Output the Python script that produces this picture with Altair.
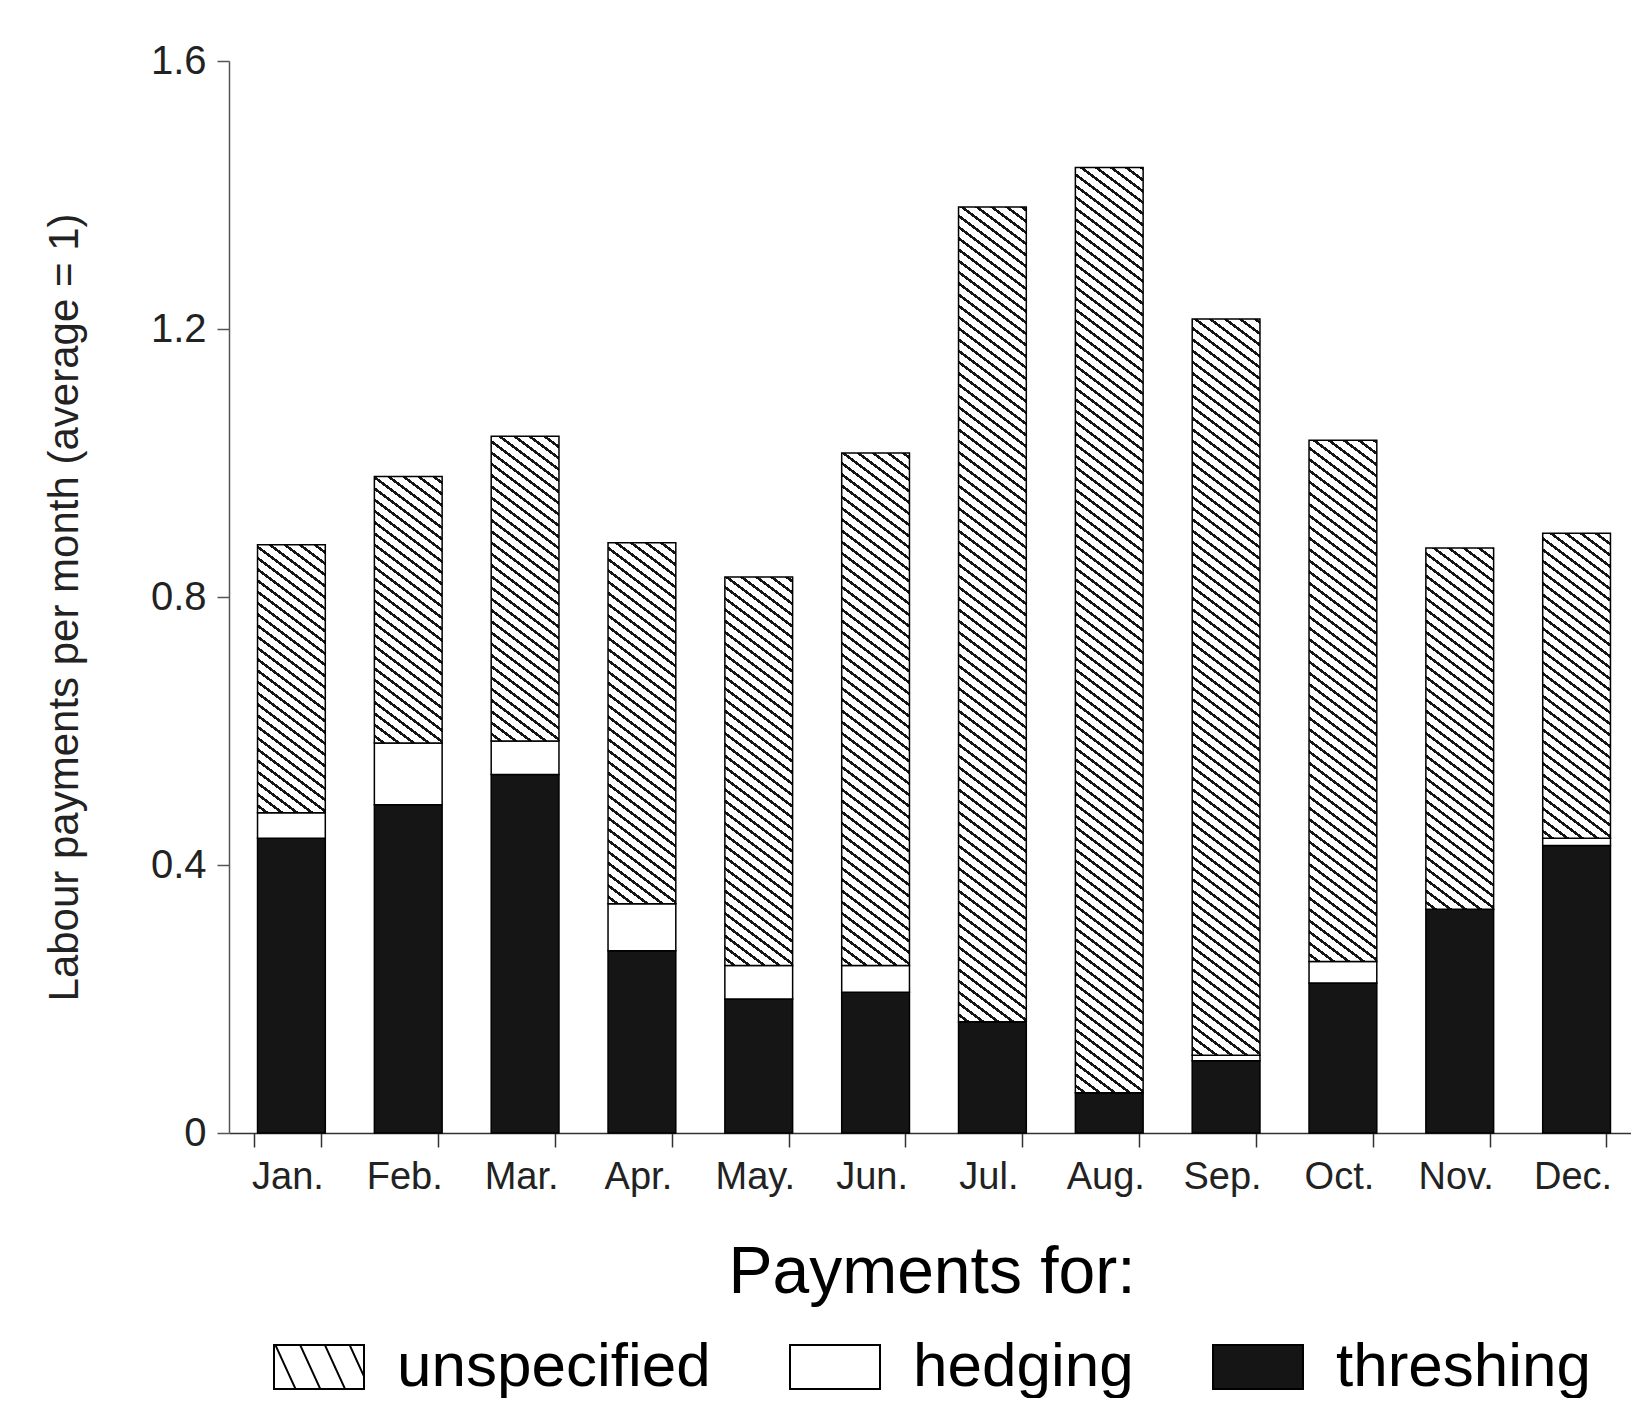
import math
import altair as alt
import pandas as pd

# ---- data ----
months = ["Jan.", "Feb.", "Mar.", "Apr.", "May.", "Jun.",
          "Jul.", "Aug.", "Sep.", "Oct.", "Nov.", "Dec."]
threshing = [0.440, 0.490, 0.535, 0.272, 0.200, 0.210,
             0.166, 0.060, 0.108, 0.224, 0.334, 0.429]
hedging = [0.038, 0.092, 0.050, 0.070, 0.050, 0.040,
           0.000, 0.000, 0.008, 0.032, 0.000, 0.011]
unspecified = [0.400, 0.398, 0.455, 0.539, 0.580, 0.765,
               1.216, 1.381, 1.099, 0.778, 0.539, 0.455]
types = ["unspecified", "hedging", "threshing"]
y_ticks = [0, 0.4, 0.8, 1.2, 1.6]

# ---- layout / style ----
W, H = 1402, 1072
Y_MAX = 1.6
PAD_INNER = 0.42
INK = "#151515"
BG = "#ffffff"
FONT = "Liberation Sans"

rows = []
for i, m in enumerate(months):
    rows.append({"month": m, "type": "threshing", "rank": 0, "value": threshing[i]})
    rows.append({"month": m, "type": "hedging", "rank": 1, "value": hedging[i]})
    rows.append({"month": m, "type": "unspecified", "rank": 2, "value": unspecified[i]})
df = pd.DataFrame(rows)

bandwidth = W / 12 * (1 - PAD_INNER)
px_per_unit = H / Y_MAX


def hatch_fill(w, h, period=9.0, line=2.6, slope=0.75):
    """Diagonal hatching as a hard-stop linear gradient in bbox units."""
    a, b = 1.0, slope
    norm = math.hypot(a, b)
    R = b * w + a * h
    s = R / ((b * w) ** 2 + (a * h) ** 2)
    L = period * norm
    T = line * norm
    stops = [{"offset": 0, "color": BG}]
    g = L * 0.5
    while g < R:
        t0 = round(g / R, 5)
        t1 = round(min((g + T) / R, 1.0), 5)
        stops += [{"offset": t0, "color": BG}, {"offset": t0, "color": INK},
                  {"offset": t1, "color": INK}, {"offset": t1, "color": BG}]
        g += L
    stops.append({"offset": 1, "color": BG})
    return {"gradient": "linear", "x1": 0, "y1": 1,
            "x2": round(s * b * w, 5), "y2": round(1 - s * a * h, 5),
            "stops": stops}


conds = []
for i, m in enumerate(months):
    conds.append({
        "test": f"datum.type === 'unspecified' && datum.month === '{m}'",
        "value": hatch_fill(bandwidth, unspecified[i] * px_per_unit),
    })

fill_range = [BG, BG, INK]

bars = alt.Chart(df).mark_bar(stroke="black", strokeWidth=1.5, xOffset=4).encode(
    x=alt.X("month:N", sort=months,
            scale=alt.Scale(paddingInner=PAD_INNER, paddingOuter=PAD_INNER / 2),
            axis=alt.Axis(title=None, labelAngle=0, labelFontSize=38, labelColor="#222",
                          labelPadding=11, tickBand="extent", tickSize=14,
                          tickColor="#333", tickWidth=1.5,
                          domainColor="#333", domainWidth=1.5)),
    y=alt.Y("value:Q", stack="zero",
            scale=alt.Scale(domain=[0, Y_MAX], nice=False),
            axis=alt.Axis(title="Labour payments per month (average = 1)",
                          values=y_ticks,
                          labelExpr="datum.value == 0 ? '0' : format(datum.value, '.1f')",
                          grid=False, labelFontSize=40, labelColor="#222",
                          labelPadding=11, tickSize=12, tickColor="#555",
                          tickWidth=1.5, domainColor="#555", domainWidth=1.5,
                          titleFontSize=42, titleFontWeight="normal",
                          titleColor="#222", titlePadding=64, titleY=H / 2 + 10)),
    fill=alt.Fill("type:N", scale=alt.Scale(domain=types, range=fill_range),
                  legend=None, condition=conds),
    order=alt.Order("rank:Q", sort="ascending"),
)

rect_path = "M-1,-0.49H1V0.49H-1Z"
hatch_path = rect_path
for c in [-0.97, -0.42, 0.13]:
    hatch_path += f"M{c},-0.49L{round(c + 0.45, 3)},0.49"
hatch_path += "M0.68,-0.49L1,0.207"

legend = alt.Legend(title="Payments for:", orient="none", legendX=44, legendY=1180,
                    direction="horizontal", titleFontSize=66, titleFontWeight="normal",
                    titleColor="black", titleAnchor="middle", titlePadding=14,
                    titleLimit=1200, labelFontSize=62, labelColor="black",
                    labelLimit=600, labelOffset=32, columnPadding=75,
                    symbolSize=8100, symbolStrokeWidth=2, symbolStrokeColor="black",
                    symbolOpacity=1)

keys = alt.Chart(df).transform_filter("false").mark_point(
    filled=True, opacity=1, strokeWidth=2, size=8100
).encode(
    fill=alt.Fill("type:N", scale=alt.Scale(domain=types, range=fill_range), legend=legend),
    stroke=alt.Stroke("type:N", scale=alt.Scale(domain=types, range=["black", "black", "black"]),
                      legend=legend),
    shape=alt.Shape("type:N", scale=alt.Scale(domain=types, range=[hatch_path, rect_path, rect_path]),
                    legend=legend),
)

chart = alt.layer(bars, keys).resolve_scale(
    fill="independent", shape="independent", stroke="independent"
).properties(
    width=W, height=H,
    padding={"left": 35, "top": 33, "right": 0, "bottom": 0},
).configure(font=FONT).configure_view(stroke=None)

chart.save("out.html", embed_options={"renderer": "svg", "actions": False})
